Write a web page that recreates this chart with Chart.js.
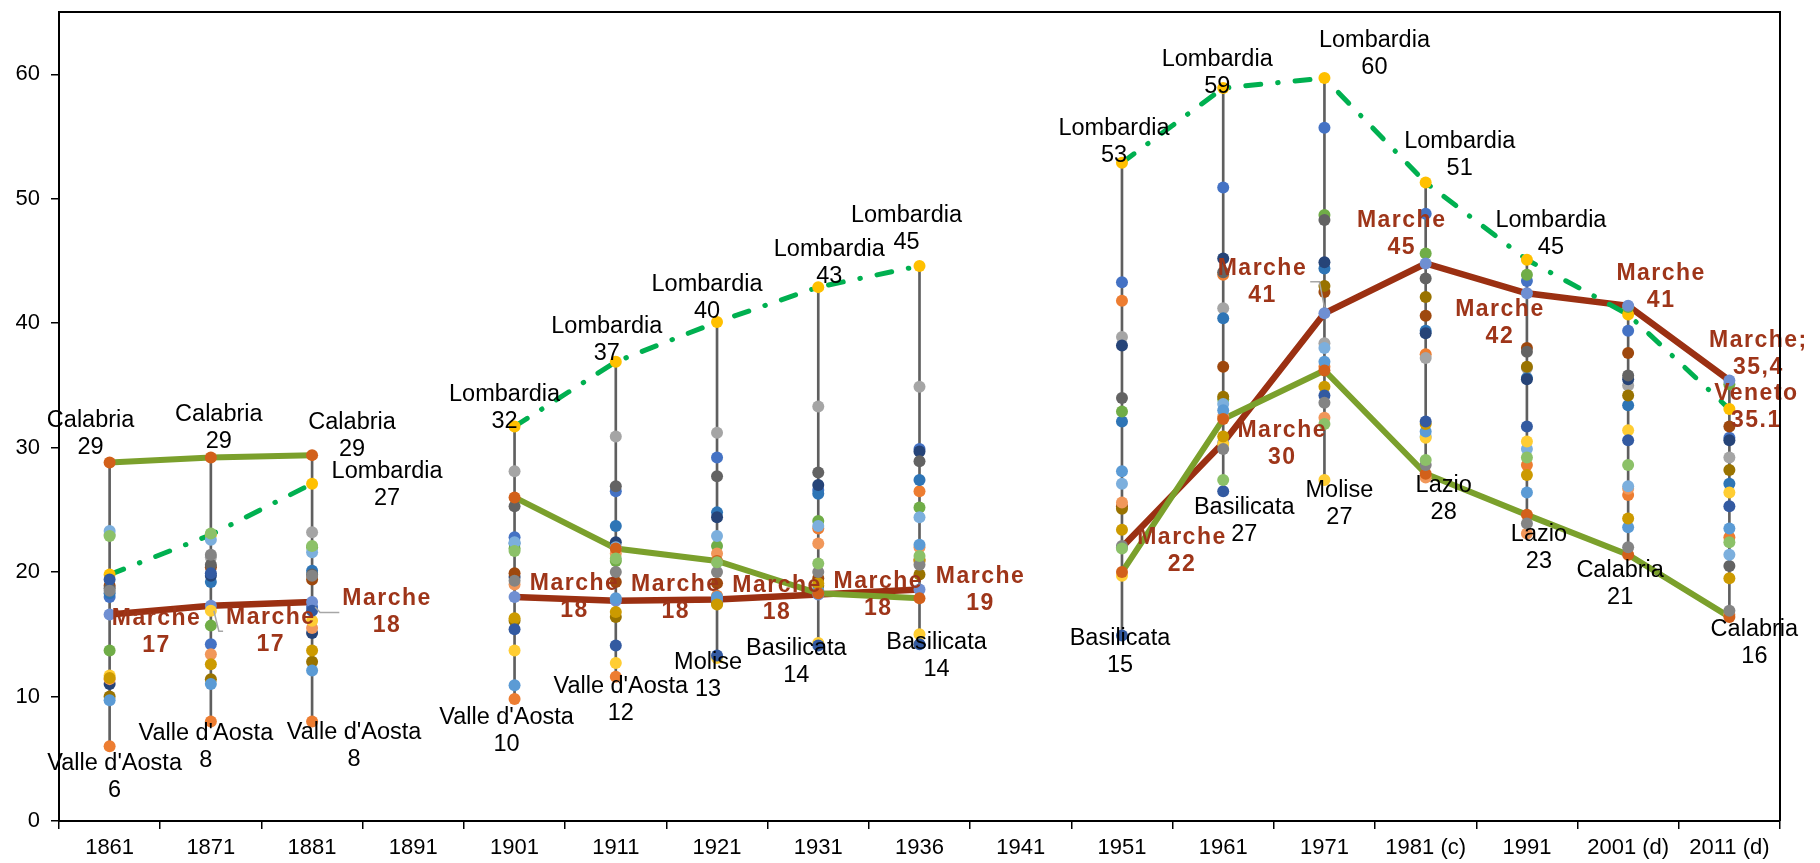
<!DOCTYPE html>
<html>
<head>
<meta charset="utf-8">
<style>
  html, body { margin: 0; padding: 0; background: #ffffff; }
  #wrap { width: 1820px; height: 863px; position: relative; }
</style>
<script src="https://cdn.jsdelivr.net/npm/chart.js@4.4.1/dist/chart.umd.min.js"></script>
</head>
<body>
<div id="wrap"><canvas id="chart" width="1820" height="863"></canvas></div>
<script>
// Census years (no census in 1891 and 1941)
const years = ['1861', '1871', '1881', '1891', '1901', '1911', '1921', '1931', '1936', '1941',
               '1951', '1961', '1971', '1981 (c)', '1991', '2001 (d)', '2011 (d)'];

// Share of workers per region, one value per census year
const piemonte   = [18.0, 14.2, 17.2, null, 22.8, 26.5, 29.2, 26.6, 29.9, null, 43.3, 50.9, 55.7, 48.8, 43.4, 39.4, 30.8];
const valleAosta = [ 6.0,  8.0,  8.0, null,  9.8, 11.6, 18.1, 23.5, 26.5, null, 41.8, 43.9, 36.5, 37.5, 28.6, 26.2, 22.8];
const liguria    = [23.0, 21.2, 23.2, null, 28.1, 30.9, 31.2, 33.3, 34.9, null, 38.9, 41.2, 38.4, 37.2, 36.4, 35.0, 29.2];
const lombardia  = [19.8, 23.0, 27.1, null, 31.7, 36.9, 40.1, 42.9, 44.6, null, 52.9, 58.9, 59.7, 51.3, 45.1, 40.7, 33.1];
const trentino   = [18.3, 19.2, 20.1, null, 22.3, 23.7, 24.8, 26.3, 27.4, null, 32.1, 40.4, 44.4, 39.4, 35.6, 33.4, 27.1];
const veneto     = [13.7, 15.7, 22.0, null, 21.9, 20.9, 22.1, 24.1, 25.2, null, 32.9, 33.9, 48.7, 45.6, 43.9, 41.3, 35.1];
const friuli     = [11.0, 19.7, 15.1, null, 19.6, 22.4, 24.4, 27.0, 29.7, null, 38.2, 45.2, 44.9, 39.2, 35.5, 35.5, 30.6];
const emilia     = [18.9, 20.4, 19.4, null, 19.9, 19.2, 19.1, 19.5, 21.0, null, 25.3, 36.5, 42.5, 40.6, 38.0, 37.6, 31.7];
const toscana    = [18.7, 20.6, 19.8, null, 25.3, 26.9, 27.7, 28.0, 28.9, null, 34.0, 44.1, 48.3, 43.6, 37.7, 35.8, 20.5];
const umbria     = [10.0, 11.4, 12.8, null, 16.1, 16.4, 17.5, 18.9, 19.8, null, 25.1, 34.1, 43.0, 42.1, 36.5, 34.2, 28.2];
const marche     = [16.6, 17.3, 17.6, null, 18.0, 17.7, 17.8, 18.2, 18.6, null, 22.0, 30.4, 40.8, 44.8, 42.4, 41.4, 35.4];
const lazio      = [11.4, 13.4, 15.5, null, 19.0, 21.5, 21.5, 22.3, 22.0, null, 25.6, 32.5, 32.4, 27.6, 23.1, 26.7, 16.6];
const abruzzo    = [23.3, 22.6, 21.6, null, 22.4, 22.0, 22.9, 23.7, 24.4, null, 27.1, 33.5, 38.0, 30.9, 29.9, 26.9, 21.4];
const molise     = [11.7, 16.9, 16.1, null, 13.7, 12.7, 13.1, 14.3, 15.0, null, 19.7, 30.3, 27.4, 30.8, 30.5, 31.4, 26.4];
const campania   = [ 9.7, 11.0, 12.1, null, 10.9, 17.9, 18.0, 18.5, 22.2, null, 28.1, 33.0, 36.9, 31.3, 26.4, 23.6, 23.5];
const puglia     = [11.5, 12.6, 13.7, null, 16.3, 16.8, 17.4, 19.1, 20.9, null, 23.4, 30.9, 34.9, 31.9, 27.8, 24.3, 19.5];
const basilicata = [19.4, 19.9, 16.9, null, 15.4, 14.1, 13.3, 14.1, 14.2, null, 14.9, 26.5, 34.2, 32.1, 31.7, 30.6, 25.3];
const calabria   = [28.8, 29.2, 29.4, null, 26.0, 21.9, 20.9, 18.3, 17.9, null, 20.0, 32.3, 36.2, 27.9, 24.6, 21.4, 16.4];
const sicilia    = [18.5, 21.4, 19.7, null, 19.3, 20.0, 20.0, 20.0, 20.6, null, 22.1, 29.9, 33.6, 28.6, 23.9, 22.0, 16.9];
const sardegna   = [22.9, 23.1, 22.1, null, 21.7, 21.1, 20.8, 20.7, 21.3, null, 21.9, 27.4, 31.9, 29.0, 29.2, 28.6, 22.4];

const yTicks = [0, 10, 20, 30, 40, 50, 60];

const regionSeries = [
  { name: 'Piemonte', values: piemonte },
  { name: "Valle d'Aosta", values: valleAosta },
  { name: 'Liguria', values: liguria },
  { name: 'Lombardia', values: lombardia },
  { name: 'Trentino-Alto Adige', values: trentino },
  { name: 'Veneto', values: veneto },
  { name: 'Friuli-Venezia Giulia', values: friuli },
  { name: 'Emilia-Romagna', values: emilia },
  { name: 'Toscana', values: toscana },
  { name: 'Umbria', values: umbria },
  { name: 'Marche', values: marche },
  { name: 'Lazio', values: lazio },
  { name: 'Abruzzo', values: abruzzo },
  { name: 'Molise', values: molise },
  { name: 'Campania', values: campania },
  { name: 'Puglia', values: puglia },
  { name: 'Basilicata', values: basilicata },
  { name: 'Calabria', values: calabria },
  { name: 'Sicilia', values: sicilia },
  { name: 'Sardegna', values: sardegna }
];

// Marker colours per region
const regionColors = {
  'Piemonte': '#4472C4', "Valle d'Aosta": '#ED7D31', 'Liguria': '#A5A5A5', 'Lombardia': '#FFC000',
  'Trentino-Alto Adige': '#2E75B6', 'Veneto': '#70AD47', 'Friuli-Venezia Giulia': '#264478',
  'Emilia-Romagna': '#9E480E', 'Toscana': '#636363', 'Umbria': '#997300', 'Marche': '#6F8FD2',
  'Lazio': '#F1975A', 'Abruzzo': '#7CAFDD', 'Molise': '#FFCD33', 'Campania': '#5B9BD5',
  'Puglia': '#CC9A00', 'Basilicata': '#335AA1', 'Calabria': '#D2601A', 'Sicilia': '#848484',
  'Sardegna': '#8CC168'
};

const FONT = "'Liberation Sans', Arial, sans-serif";
const MARCHE_RED = '#9B3012';
const MARCHE_TEXT = '#9E3519';

// Extra labelled points besides the yearly max / min and Marche
const extraLabels = [
  { year: '1881', region: 'Lombardia', kind: 'plain' },
  { year: '2011 (d)', region: 'Veneto', kind: 'marche' }
];

// Label placement: [dx, dy] of the value line relative to the point
const labelOffsets = {
  '1861|Calabria': [-19, -15], '1871|Calabria': [8, -16], '1881|Calabria': [40, -6],
  '1881|Lombardia': [75, 15],
  '1901|Lombardia': [-10, -5], '1911|Lombardia': [-9, -8], '1921|Lombardia': [-10, -10],
  '1931|Lombardia': [11, -11], '1936|Lombardia': [-13, -23], '1951|Lombardia': [-8, -7],
  '1961|Lombardia': [-6, -1], '1971|Lombardia': [50, -11], '1981 (c)|Lombardia': [34, -14],
  '1991|Lombardia': [24, -12],
  "1861|Valle d'Aosta": [5, 44], "1871|Valle d'Aosta": [-5, 39], "1881|Valle d'Aosta": [42, 38],
  "1901|Valle d'Aosta": [-8, 45], "1911|Valle d'Aosta": [5, 37],
  '1921|Molise': [-9, 32], '1931|Basilicata': [-22, 30], '1936|Basilicata': [17, 25],
  '1951|Basilicata': [-2, 30], '1961|Basilicata': [21, 43], '1971|Molise': [15, 37],
  '1981 (c)|Lazio': [18, 35], '1991|Lazio': [12, 28], '2001 (d)|Calabria': [-8, 43],
  '2011 (d)|Calabria': [25, 40],
  '1861|Marche': [47, 31], '1871|Marche': [60, 39], '1881|Marche': [75, 24],
  '1901|Marche': [60, 14], '1911|Marche': [60, 11], '1921|Marche': [60, 13],
  '1931|Marche': [60, 14], '1936|Marche': [61, 14], '1951|Marche': [60, 17],
  '1961|Marche': [59, 15], '1971|Marche': [-62, -18], '1981 (c)|Marche': [-24, -16],
  '1991|Marche': [-27, 43], '2001 (d)|Marche': [33, -5], '2011 (d)|Marche': [29, -13],
  '2011 (d)|Veneto': [27, 36]
};
const leaderLines = ['1871|Marche', '1881|Marche', '1971|Marche'];

// Label text for the two decimal labels of the last census
const labelText = {
  '2011 (d)|Marche': v => ['Marche;', v.toFixed(1).replace('.', ',')],
  '2011 (d)|Veneto': v => ['Veneto', v.toFixed(1)]
};

// Range of each census year (min to max over the regions) for the vertical bars
const yearRange = years.map((_, i) => {
  const vals = regionSeries.map(r => r.values[i]).filter(v => v !== null);
  return vals.length ? [Math.min(...vals), Math.max(...vals)] : null;
});

const LINE_GAP = 27;

const framePlugin = {
  id: 'frame',
  afterDraw(chart) {
    const { ctx, chartArea: a } = chart;
    ctx.save();
    ctx.strokeStyle = '#000';
    ctx.lineWidth = 2;
    ctx.beginPath();
    ctx.moveTo(a.left, a.top);
    ctx.lineTo(a.right, a.top);
    ctx.lineTo(a.right, a.bottom);
    ctx.stroke();
    ctx.restore();
  }
};

const labelPlugin = {
  id: 'pointLabels',
  afterDatasetsDraw(chart) {
    const { ctx } = chart;
    const xs = chart.scales.x, ys = chart.scales.y;
    const jobs = [];
    years.forEach((yr, i) => {
      const present = regionSeries.filter(r => r.values[i] !== null);
      if (!present.length) return;
      const top = present.reduce((a, b) => (b.values[i] > a.values[i] ? b : a));
      const bottom = present.reduce((a, b) => (b.values[i] < a.values[i] ? b : a));
      if (top.name !== 'Marche') jobs.push({ i, r: top, kind: 'plain' });
      if (bottom.name !== 'Marche') jobs.push({ i, r: bottom, kind: 'plain' });
      jobs.push({ i, r: regionSeries.find(r => r.name === 'Marche'), kind: 'marche' });
    });
    extraLabels.forEach(e => {
      jobs.push({ i: years.indexOf(e.year), r: regionSeries.find(r => r.name === e.region), kind: e.kind });
    });

    ctx.save();
    ctx.textAlign = 'center';
    ctx.textBaseline = 'middle';
    jobs.forEach(job => {
      const v = job.r.values[job.i];
      const key = years[job.i] + '|' + job.r.name;
      const off = labelOffsets[key] || [0, -20];
      const px = xs.getPixelForValue(job.i);
      const py = ys.getPixelForValue(v);
      const cx = px + off[0], cy = py + off[1];
      const lines = labelText[key] ? labelText[key](v) : [job.r.name, String(Math.round(v))];
      if (job.kind === 'marche') {
        ctx.font = 'bold 23px ' + FONT;
        ctx.fillStyle = MARCHE_TEXT;
        ctx.letterSpacing = '1.5px';
      } else {
        ctx.font = '23.5px ' + FONT;
        ctx.fillStyle = '#000';
        ctx.letterSpacing = '0px';
      }
      lines.forEach((t, k) => ctx.fillText(t, cx, cy - (lines.length - 1 - k) * LINE_GAP));

      if (leaderLines.includes(key)) {
        const w = ctx.measureText(lines[0]).width;
        const midY = cy - LINE_GAP / 2;
        ctx.strokeStyle = '#A6A6A6';
        ctx.lineWidth = 1.5;
        ctx.beginPath();
        if (cx > px) {
          ctx.moveTo(cx - w / 2 - 3, midY);
          ctx.lineTo(px + 8, midY);
          ctx.lineTo(px + 3, py + 5);
        } else {
          ctx.moveTo(cx + w / 2 + 3, midY);
          ctx.lineTo(px - 5, midY);
          ctx.lineTo(px, py - 6);
        }
        ctx.stroke();
      }
    });
    ctx.restore();
  }
};

const datasets = [
  {
    type: 'bar', data: yearRange, backgroundColor: '#5f5f5f', barThickness: 2,
    borderWidth: 0, order: 40
  },
  {
    type: 'line', data: lombardia, borderColor: '#00B050', borderWidth: 5,
    borderDash: [15, 17, 0.5, 17], borderCapStyle: 'round', pointRadius: 0,
    spanGaps: false, order: 29
  },
  {
    type: 'line', data: calabria, borderColor: '#7BA02C', borderWidth: 6,
    pointRadius: 0, spanGaps: false, order: 30
  },
  {
    type: 'line', data: marche, borderColor: MARCHE_RED, borderWidth: 6.5,
    pointRadius: 0, spanGaps: false, order: 31
  },
  ...regionSeries.map((r, idx) => ({
    type: 'line', label: r.name, data: r.values, showLine: false,
    pointRadius: 6, pointHoverRadius: 6, pointBorderWidth: 0,
    pointBackgroundColor: regionColors[r.name], order: 20 - idx
  }))
];

const axisGrid = {
  display: true, drawOnChartArea: false, drawTicks: true, tickLength: 8,
  color: '#000', lineWidth: 1.5
};

new Chart(document.getElementById('chart'), {
  type: 'bar',
  data: { labels: years, datasets },
  options: {
    responsive: false,
    animation: false,
    layout: { autoPadding: false, padding: { top: 5, right: 40, bottom: 0, left: 0 } },
    plugins: { legend: { display: false }, tooltip: { enabled: false } },
    scales: {
      x: {
        type: 'category', offset: true,
        grid: Object.assign({ offset: true }, axisGrid),
        border: { display: true, color: '#000', width: 2 },
        ticks: { color: '#000', font: { family: FONT, size: 22 }, padding: 6, maxRotation: 0, autoSkip: false },
        afterFit(s) { s.height = 42; }
      },
      y: {
        min: 0, max: 65,
        grid: axisGrid,
        border: { display: true, color: '#000', width: 2 },
        ticks: { color: '#000', font: { family: FONT, size: 22, lineHeight: 0.1 }, padding: 11, stepSize: 10 },
        afterBuildTicks(s) { s.ticks = yTicks.map(v => ({ value: v })); },
        afterFit(s) { s.width = 59; }
      }
    }
  },
  plugins: [framePlugin, labelPlugin]
});
</script>
</body>
</html>
